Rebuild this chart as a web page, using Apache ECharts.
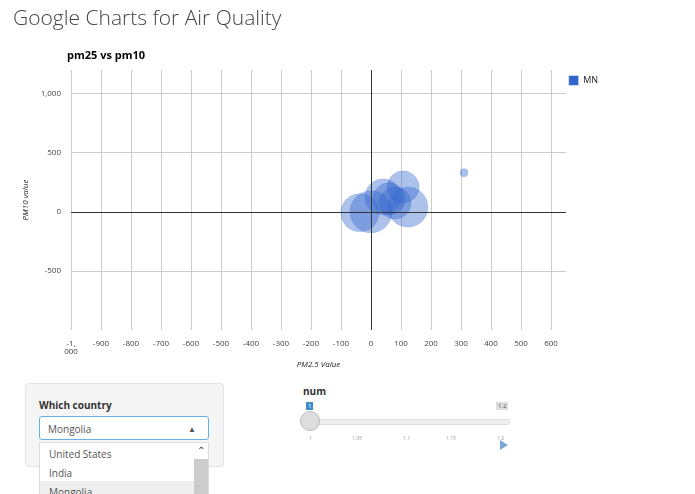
<!DOCTYPE html>
<html><head><meta charset="utf-8">
<script src="https://cdn.jsdelivr.net/npm/echarts@6/dist/echarts.min.js"></script>
<style>
body{margin:0;width:695px;height:494px;overflow:hidden;font-family:"Open Sans",sans-serif;background:#fff;position:relative}
#h{position:absolute;left:13px;top:3px;font-size:21px;font-weight:300;color:#444}
#chart{position:absolute;left:0;top:0;width:695px;height:380px}
#well{position:absolute;left:25px;top:383px;width:197px;height:82px;background:#f5f5f5;border:1px solid #e3e3e3;border-radius:4px}
#lab{position:absolute;left:39px;top:398px;font-size:10px;font-weight:bold;color:#333}
#sel{position:absolute;left:39px;top:416px;width:170px;height:24px;border:1px solid #66afe9;border-radius:3px;background:#fff;font-size:10px;color:#555;line-height:24px;padding-left:8px;box-sizing:border-box}
#sel span{position:absolute;right:12px;top:0;font-size:8px}
#dd{position:absolute;left:39px;top:442px;width:168px;height:60px;background:#fff;border:1px solid #ddd;font-size:10px;color:#555;overflow:hidden}
#dd div.o{padding:4px 9px;height:11px}
#sb{position:absolute;right:0;top:16px;width:14px;height:46px;background:#ccc}
#up{position:absolute;right:3px;top:0;font-size:10px;color:#333}
#num{position:absolute;left:303px;top:384px;font-size:10px;font-weight:bold;color:#333}
#track{position:absolute;left:310px;top:419px;width:198px;height:4px;background:#eee;border:1px solid #ddd;border-radius:2px}
#knob{position:absolute;left:300px;top:411px;width:18px;height:18px;border-radius:50%;background:#ddd;border:1px solid #bbb}
#bl{position:absolute;left:306px;top:402px;background:#428bca;color:#fff;font-size:6px;padding:0 2px}
#br{position:absolute;left:496px;top:402px;background:#ddd;color:#555;font-size:6px;padding:0 2px}
#play{position:absolute;left:500px;top:440px;width:0;height:0;border-left:8px solid #7aa7d8;border-top:5px solid transparent;border-bottom:5px solid transparent}
.t{position:absolute;top:435px;font-size:5px;color:#999}
</style></head><body>
<div id="chart"></div>
<div id="h">Google Charts for Air Quality</div>
<div id="well"></div>
<div id="lab">Which country</div>
<div id="sel">Mongolia<span>&#9650;</span></div>
<div id="dd"><div class="o">United States</div><div class="o">India</div><div class="o" style="background:#eee">Mongolia</div><div id="up">&#8963;</div><div id="sb"></div></div>
<div id="num">num</div>
<div id="track"></div>
<div id="knob"></div>
<div id="bl">1</div><div id="br">1.2</div>
<div class="t" style="left:309px">1</div><div class="t" style="left:352px">1.05</div>
<div class="t" style="left:403px">1.1</div><div class="t" style="left:446px">1.15</div><div class="t" style="left:497px">1.2</div>
<div id="play"></div>
<script>
var pm25 = [0, -37, 123, 107, 40, 80, 60, 310];
var pm10 = [0, -8, 40, 210, 126, 75, 110, 330];
var sizes = [42, 38, 40, 32, 36, 32, 32, 8];
var xTicks = [-1000, -900, -800, -700, -600, -500, -400, -300, -200, -100, 0, 100, 200, 300, 400, 500, 600];
var yTicks = [-500, 0, 500, 1000];

var chart = echarts.init(document.getElementById('chart'));
var pts = pm25.map(function (v, i) { return [v, pm10[i], sizes[i]]; });
chart.setOption({
  animation: false,
  textStyle: { fontFamily: 'Open Sans' },
  title: { text: 'pm25 vs pm10', left: 62, top: 45, textStyle: { fontSize: 11, fontWeight: 'bold', color: '#000' } },
  legend: { data: [{ name: 'MN', itemStyle: { color: '#3366cc', opacity: 1 } }], right: 92, top: 70, orient: 'vertical', icon: 'rect', itemWidth: 9, itemHeight: 9, textStyle: { fontSize: 9, color: '#222' } },
  grid: { left: 71, right: 129, top: 70, bottom: 50 },
  xAxis: {
    type: 'value', min: -1000, max: 650, interval: 100,
    name: 'PM2.5 Value', nameLocation: 'middle', nameGap: 31,
    nameTextStyle: { fontSize: 8, fontStyle: 'italic', color: '#222' },
    axisLine: { onZero: false, show: false }, axisTick: { show: false },
    axisLabel: { fontSize: 8, color: '#444', margin: 10, showMaxLabel: false,
      formatter: function (v) { return v === -1000 ? '-1,\n000' : (xTicks.indexOf(v) >= 0 ? String(v) : ''); } },
    splitLine: { showMaxLine: false, lineStyle: { color: '#ccc' } }
  },
  yAxis: {
    type: 'value', min: -1000, max: 1200, interval: 500,
    name: 'PM10 value', nameLocation: 'middle', nameGap: 41,
    nameTextStyle: { fontSize: 8, fontStyle: 'italic', color: '#222' },
    axisLine: { show: false }, axisTick: { show: false },
    axisLabel: { fontSize: 8, color: '#444', margin: 10,
      formatter: function (v) { return yTicks.indexOf(v) >= 0 ? v.toLocaleString('en-US') : ''; } },
    splitLine: { showMinLine: false, showMaxLine: false, lineStyle: { color: '#ccc' } }
  },
  series: [{
    name: 'MN', type: 'scatter', data: pts,
    symbolSize: function (d) { return d[2]; },
    itemStyle: { color: 'rgba(51,102,204,0.5)', borderColor: 'rgba(51,102,204,0.25)', borderWidth: 1 },
    markLine: { silent: true, symbol: 'none', label: { show: false },
      lineStyle: { color: '#333', type: 'solid', width: 1 },
      data: [{ xAxis: 0 }, { yAxis: 0 }] }
  }]
});
</script>
</body></html>
